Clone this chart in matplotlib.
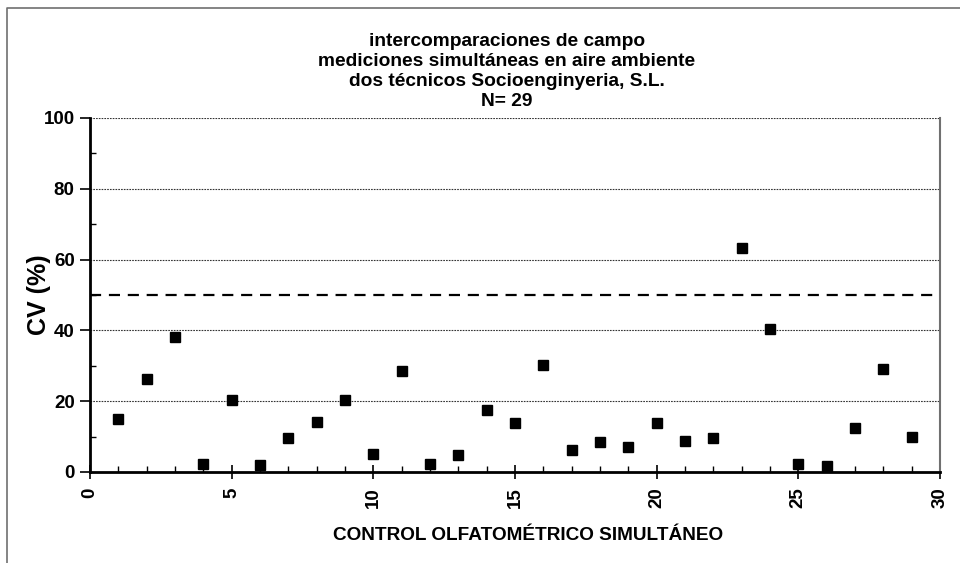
import numpy as np
import matplotlib.pyplot as plt
from matplotlib.lines import Line2D
from matplotlib.ticker import MultipleLocator

plt.rcParams['font.family'] = ['Liberation Sans', 'DejaVu Sans']
plt.rcParams['font.weight'] = 'bold'

# control number and coefficient of variation (%)
control = np.arange(1, 30)
cv = [15.0, 26.2, 38.2, 2.2, 20.3, 2.1, 9.7, 14.2, 20.3, 5.0,
      28.5, 2.2, 4.8, 17.5, 13.9, 30.3, 6.1, 8.6, 7.2, 13.9,
      8.8, 9.5, 63.2, 40.3, 2.2, 1.8, 12.5, 29.0, 9.8]
limit = 50

title_lines = ['intercomparaciones de campo',
               'mediciones simultáneas en aire ambiente',
               'dos técnicos Socioenginyeria, S.L.',
               'N= 29']

W, H = 960, 563
fig = plt.figure(figsize=(W / 100, H / 100), dpi=100)
ax = fig.add_axes([90 / W, 1 - 472 / H, 850 / W, 354 / H])

# outer chart-area border (left and top only visible)
fig.add_artist(Line2D([7 / W, 7 / W, 1], [0, 1 - 8 / H, 1 - 8 / H],
                      transform=fig.transFigure, color='#707070', lw=1.2))

ax.set_xlim(0, 30)
ax.set_ylim(0, 100)

for y in [20, 40, 60, 80, 100]:
    ax.axhline(y, color='#333333', lw=0.8, ls=(0, (1.5, 1)), zorder=1)
ax.axhline(limit, color='black', lw=1.6, ls=(0, (5, 3.5)), zorder=2)

ax.plot(control, cv, ls='none', marker='s', ms=7, color='black', zorder=3)

ax.xaxis.set_major_locator(MultipleLocator(5))
ax.xaxis.set_minor_locator(MultipleLocator(1))
ax.yaxis.set_major_locator(MultipleLocator(20))
ax.yaxis.set_minor_locator(MultipleLocator(10))
ax.tick_params(axis='x', which='major', direction='inout', length=10, width=1.2,
               labelsize=13.5, labelrotation=90, pad=6)
ax.tick_params(axis='x', which='minor', direction='in', length=4, width=1)
ax.tick_params(axis='y', which='major', direction='out', length=7, width=1.2,
               labelsize=13.5, pad=4)
ax.tick_params(axis='y', which='minor', direction='in', length=4, width=1)

ax.spines['top'].set_visible(False)
ax.spines['left'].set_linewidth(2)
ax.spines['bottom'].set_linewidth(2)
ax.spines['right'].set_color('#707070')
ax.spines['right'].set_linewidth(1.5)

ax.set_ylabel('CV (%)', fontsize=18, fontweight='bold')
ax.yaxis.set_label_coords(-0.06, 0.5)
ax.set_xlabel('CONTROL OLFATOMÉTRICO SIMULTÁNEO', fontsize=13.7,
              fontweight='bold')
ax.xaxis.set_label_coords(0.515, -0.178)
ax.xaxis.label.set_va('center')
ax.yaxis.label.set_va('center')

for i, line in enumerate(title_lines):
    fig.text(507 / W, 1 - (41 + 20 * i) / H, line, ha='center', va='center',
             fontsize=13.8, fontweight='bold')

fig.savefig('out.png', dpi=100)
